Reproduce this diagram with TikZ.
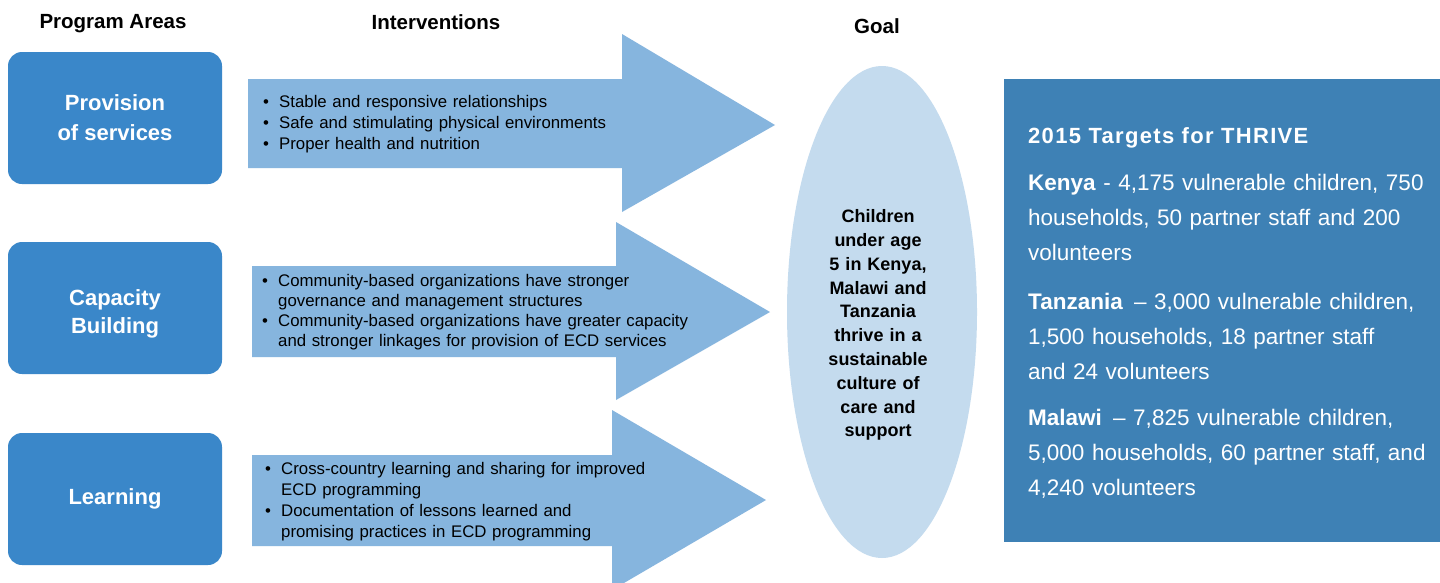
\documentclass[tikz,border=0pt]{standalone}
\usepackage{fontspec}
\setmainfont{Liberation Sans}
\newfontfamily\spacedfont[LetterSpace=6]{Liberation Sans}
\definecolor{areablue}{HTML}{3A87C9}
\definecolor{arrowblue}{HTML}{86B5DE}
\definecolor{goalblue}{HTML}{C4DBEE}
\definecolor{panelblue}{HTML}{3E81B5}
\newcommand{\bul}{\makebox[16pt][l]{\textbullet}}
\newcommand{\cont}{\hspace*{16pt}}
\begin{document}
\begin{tikzpicture}[x=1pt,y=-1pt,
  header/.style={anchor=base, inner sep=0pt, font=\fontsize{20.5}{24}\selectfont\bfseries},
  areabox/.style={fill=areablue, rounded corners=14pt, minimum width=214pt,
    minimum height=132pt, text=white, align=center, inner sep=0pt,
    font=\fontsize{22}{30}\selectfont\bfseries},
  arealabel/.style={anchor=base, inner sep=0pt, text width=200pt, align=center,
    text=white, font=\fontsize{22}{28.5}\selectfont\bfseries},
  arrowshape/.style={fill=arrowblue},
  bullets/.style={anchor=base west, inner sep=0pt, text width=440pt, align=left,
    font=\fontsize{16.8}{21}\selectfont},
  paneltext/.style={anchor=base west, inner sep=0pt, text width=405pt, align=left,
    text=white, font=\fontsize{22.5}{35}\selectfont}]
\useasboundingbox (0,0) rectangle (1440,582);
\fill[white] (0,0) rectangle (1440,582);

% column headers
\node[header] (hareas) at (113,28) {Program Areas};
\node[header] (hinter) at (436,29.5) {Interventions};
\node[header] (hgoal) at (877,33) {Goal};

% intervention arrows
\fill[arrowshape] (248,79) -- (622,79) -- (622,34) -- (775,125) -- (622,212)
  -- (622,168) -- (248,168) -- cycle;
\fill[arrowshape] (252,266) -- (616,266) -- (616,222) -- (770,312) -- (616,400)
  -- (616,357) -- (252,357) -- cycle;
\fill[arrowshape] (252,455) -- (612,455) -- (612,410) -- (766,500) -- (612,590)
  -- (612,546) -- (252,546) -- cycle;

% program areas
\node[areabox] (prov) at (115,118) {Provision\\of services};
\node[areabox] (cap) at (115,308) {};
\node[arealabel] (caplabel) at (115,305) {Capacity\\Building};
\node[areabox] (learn) at (115,499) {Learning};

% intervention texts
\node[bullets] (int1) at (263,107) {\bul Stable and responsive relationships\\
  \bul Safe and stimulating physical environments\\
  \bul Proper health and nutrition};
\node[bullets, font=\fontsize{16.8}{20.3}\selectfont] (int2) at (262,286) {\bul Community-based organizations have stronger\\
  \cont governance and management structures\\
  \bul Community-based organizations have greater capacity\\
  \cont and stronger linkages for provision of ECD services};
\node[bullets, font=\fontsize{16.8}{21.3}\selectfont] (int3) at (265,474) {\bul Cross-country learning and sharing for improved\\
  \cont ECD programming\\
  \bul Documentation of lessons learned and\\
  \cont promising practices in ECD programming};

% goal
\fill[goalblue] (882,312) ellipse (95 and 246);
\node[anchor=base, inner sep=0pt, text width=160pt, align=center,
  font=\fontsize{18}{23.8}\selectfont\bfseries] (goal) at (878,222.7)
  {Children\\under age\\5 in Kenya,\\Malawi and\\Tanzania\\thrive in a\\sustainable\\culture of\\care and\\support};

% targets panel
\fill[panelblue] (1004,79) rectangle (1440,542);
\node[anchor=base west, inner sep=0pt, text=white,
  font=\fontsize{22}{24}\selectfont\spacedfont\bfseries] (ttitle) at (1028,143.3)
  {2015 Targets for THRIVE};
\node[paneltext] (kenya) at (1028,190.7) {\textbf{Kenya} - 4,175 vulnerable children, 750\\
  households, 50 partner staff and 200\\volunteers};
\node[paneltext] (tanz) at (1028,309) {\textbf{Tanzania} \,– 3,000 vulnerable children,\\
  1,500 households, 18 partner staff\\and 24 volunteers};
\node[paneltext] (malawi) at (1028,425.7) {\textbf{Malawi} \,– 7,825 vulnerable children,\\
  5,000 households, 60 partner staff, and\\4,240 volunteers};
\end{tikzpicture}
\end{document}
